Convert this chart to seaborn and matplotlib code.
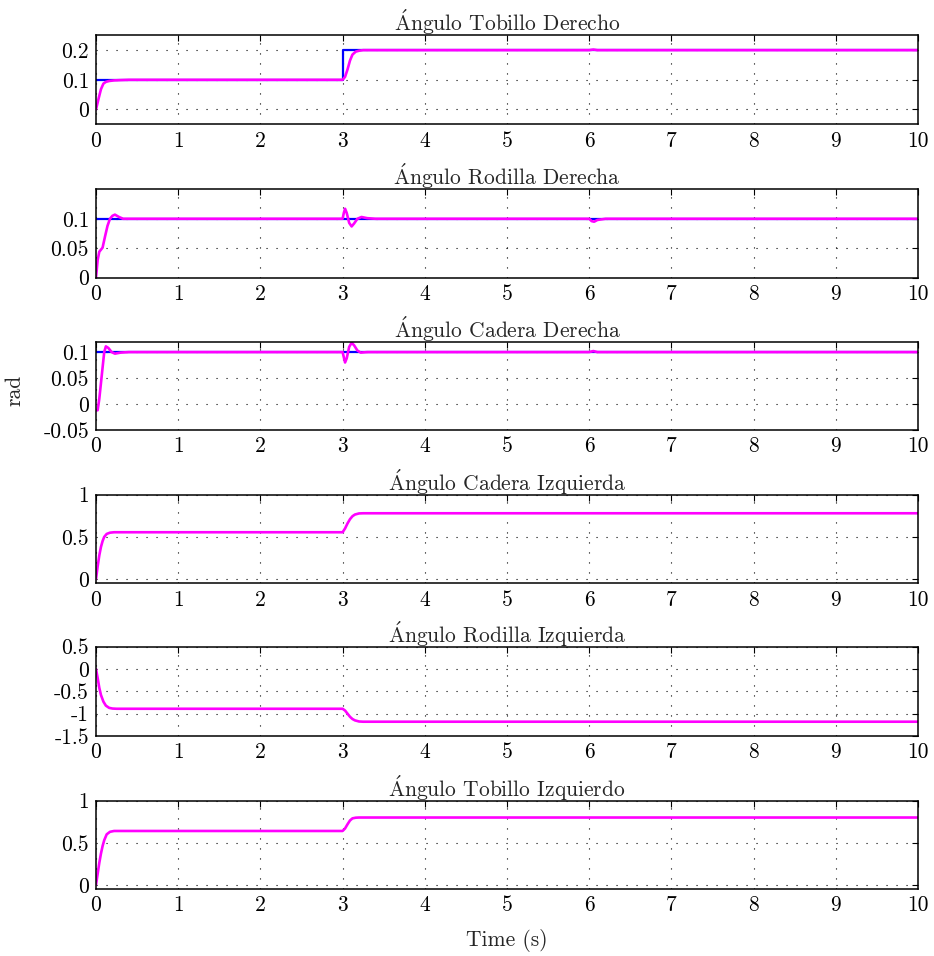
import numpy as np
import pandas as pd
import matplotlib
matplotlib.use("Agg")
import matplotlib.pyplot as plt
import seaborn as sns
from matplotlib.ticker import FuncFormatter

sns.set_theme(style="white")
plt.rcParams['font.family'] = ['cmr10', 'DejaVu Serif']
plt.rcParams['mathtext.fontset'] = 'cm'
plt.rcParams['axes.unicode_minus'] = False
plt.rcParams['axes.formatter.use_mathtext'] = False

A = r"$\acute{\mathrm{A}}$"
titles = [A + "ngulo Tobillo Derecho", A + "ngulo Rodilla Derecha", A + "ngulo Cadera Derecha",
          A + "ngulo Cadera Izquierda", A + "ngulo Rodilla Izquierda", A + "ngulo Tobillo Izquierdo"]

# Reference (blue) signals
ref_t = [
    [0, 3, 3, 10],
    [0, 10],
    [0, 10],
    None, None, None,
]
ref_y = [
    [0.1, 0.1, 0.2, 0.2],
    [0.1, 0.1],
    [0.1, 0.1],
    None, None, None,
]

# Measured (magenta) signals
t1 = [0, 0.03, 0.06, 0.09, 0.12, 0.16, 0.22, 0.3, 0.4, 3.0, 3.03, 3.06, 3.09, 3.12, 3.16, 3.2, 3.25, 3.35, 6.0, 6.05, 6.1, 6.2, 10]
y1 = [0, 0.035, 0.068, 0.087, 0.093, 0.096, 0.098, 0.099, 0.1, 0.1, 0.11, 0.135, 0.165, 0.185, 0.195, 0.198, 0.2, 0.2, 0.2, 0.202, 0.2, 0.2, 0.2]

t2 = [0, 0.02, 0.04, 0.08, 0.11, 0.14, 0.17, 0.2, 0.23, 0.28, 0.33, 0.45,
      3.0, 3.015, 3.03, 3.05, 3.08, 3.11, 3.14, 3.18, 3.23, 3.3, 3.4,
      6.0, 6.03, 6.06, 6.1, 6.2, 10]
y2 = [0, 0.03, 0.044, 0.051, 0.07, 0.088, 0.1, 0.105, 0.107, 0.103, 0.1, 0.1,
      0.1, 0.11, 0.117, 0.11, 0.093, 0.087, 0.092, 0.1, 0.103, 0.101, 0.1,
      0.1, 0.096, 0.095, 0.098, 0.1, 0.1]

t3 = [0, 0.02, 0.04, 0.06, 0.08, 0.1, 0.12, 0.15, 0.19, 0.23, 0.3, 0.4,
      3.0, 3.015, 3.03, 3.05, 3.08, 3.11, 3.14, 3.18, 3.22, 3.3,
      6.0, 6.05, 6.1, 10]
y3 = [-0.012, -0.012, 0.01, 0.04, 0.07, 0.1, 0.111, 0.108, 0.1, 0.097, 0.099, 0.1,
      0.1, 0.09, 0.08, 0.088, 0.11, 0.118, 0.113, 0.103, 0.099, 0.1,
      0.1, 0.102, 0.1, 0.1]

t4 = [0, 0.02, 0.04, 0.06, 0.08, 0.1, 0.13, 0.17, 0.22, 0.3,
      3.0, 3.03, 3.06, 3.09, 3.12, 3.15, 3.2, 3.25, 10]
y4 = [0, 0.15, 0.28, 0.38, 0.45, 0.5, 0.535, 0.55, 0.555, 0.555,
      0.555, 0.6, 0.66, 0.71, 0.745, 0.765, 0.778, 0.78, 0.78]

t5 = [0, 0.02, 0.04, 0.06, 0.09, 0.12, 0.16, 0.2, 0.25, 0.35,
      3.0, 3.03, 3.06, 3.09, 3.12, 3.15, 3.2, 3.25, 10]
y5 = [0, -0.2, -0.42, -0.58, -0.73, -0.82, -0.87, -0.885, -0.89, -0.89,
      -0.89, -0.93, -1.0, -1.07, -1.12, -1.15, -1.175, -1.18, -1.18]

t6 = [0, 0.02, 0.04, 0.06, 0.08, 0.1, 0.13, 0.17, 0.22, 0.3,
      3.0, 3.03, 3.06, 3.09, 3.12, 3.16, 3.2, 3.25, 10]
y6 = [0, 0.13, 0.26, 0.37, 0.46, 0.53, 0.6, 0.63, 0.64, 0.64,
      0.64, 0.67, 0.72, 0.765, 0.79, 0.798, 0.8, 0.8, 0.8]

meas_t = [t1, t2, t3, t4, t5, t6]
meas_y = [y1, y2, y3, y4, y5, y6]

ylims = [(-0.05, 0.25), (0, 0.15), (-0.05, 0.12), (-0.05, 1.0), (-1.5, 0.5), (-0.05, 1.0)]
yticks = [[0, 0.1, 0.2], [0, 0.05, 0.1], [-0.05, 0, 0.05, 0.1], [0, 0.5, 1],
          [-1.5, -1, -0.5, 0, 0.5], [0, 0.5, 1]]
xticks = list(range(0, 11))

W, H = 934, 956
fig = plt.figure(figsize=(W / 100, H / 100), dpi=100)
left, right = 96, 918
tops = [35.3, 189.3, 341.7, 494.7, 646.7, 800.7]
bots = [124.3, 277.7, 430.0, 583.3, 736.0, 889.0]

fmt = FuncFormatter(lambda v, p: ('%g' % v))
FS = 15.5

for i in range(6):
    ax = fig.add_axes([left / W, 1 - bots[i] / H, (right - left) / W, (bots[i] - tops[i]) / H])
    if ref_t[i] is not None:
        dfr = pd.DataFrame({"t": ref_t[i], "y": ref_y[i]})
        sns.lineplot(data=dfr, x="t", y="y", ax=ax, color=(0, 0, 1), lw=1.6,
                     estimator=None, sort=False)
    dfm = pd.DataFrame({"t": meas_t[i], "y": meas_y[i]})
    sns.lineplot(data=dfm, x="t", y="y", ax=ax, color=(1, 0, 1), lw=1.9,
                 estimator=None, sort=False)
    ax.set_xlim(0, 10)
    ax.set_ylim(*ylims[i])
    ax.set_xticks(xticks)
    ax.set_yticks(yticks[i])
    ax.yaxis.set_major_formatter(fmt)
    ax.xaxis.set_major_formatter(fmt)
    ax.set_xlabel("")
    ax.set_ylabel("")
    ax.set_title(titles[i], fontsize=FS, pad=3)
    ax.grid(True, color='black', linestyle=(0, (1, 8)), linewidth=0.8)
    ax.tick_params(direction='in', length=4, width=0.8, top=True, right=True,
                   labelsize=FS, colors='black', pad=5)
    for s in ax.spines.values():
        s.set_color('black')
        s.set_linewidth(1.1)
    ax.set_facecolor('white')

fig.text(507 / W, 1 - 941 / H, "Time (s)", ha='center', va='center', fontsize=FS)
fig.text(15 / W, 1 - 390 / H, "rad", ha='center', va='center', rotation=90, fontsize=FS)

fig.savefig("out.png", dpi=100, facecolor='white')
